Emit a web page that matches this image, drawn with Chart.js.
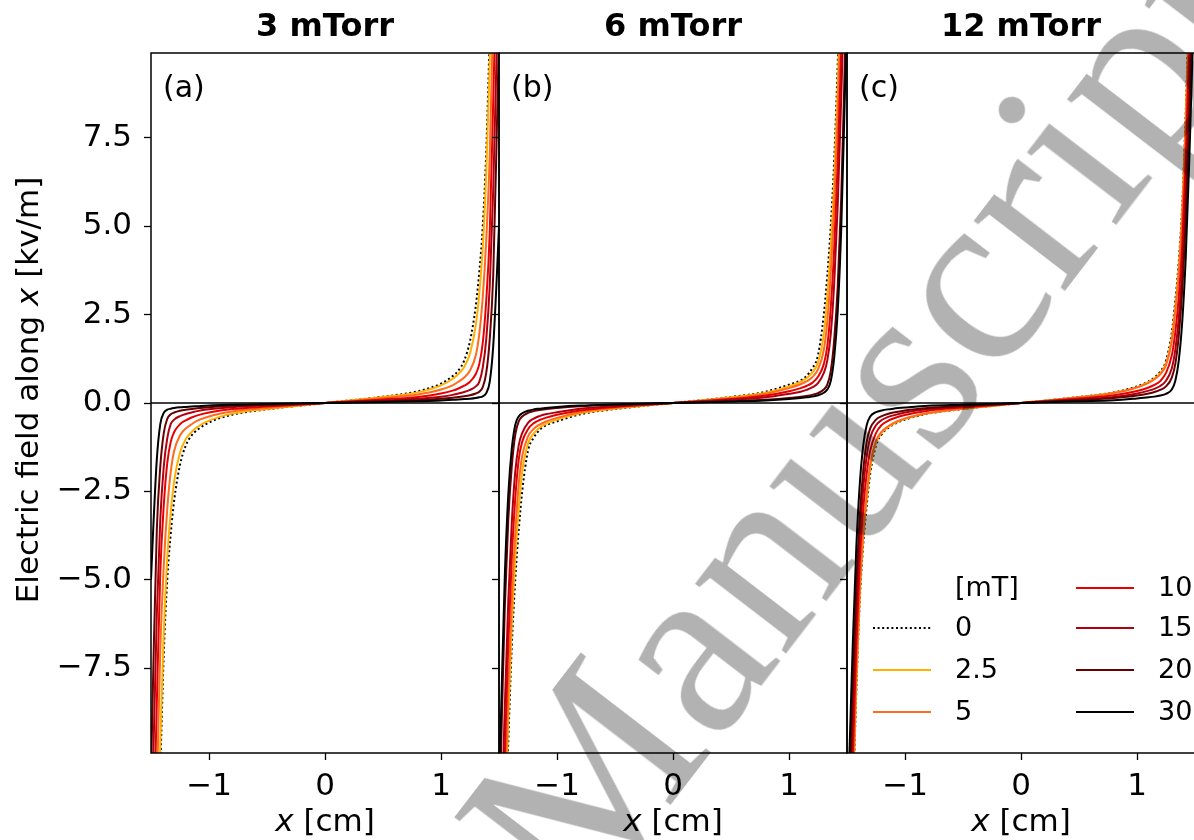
<!DOCTYPE html>
<html>
<head>
<meta charset="utf-8">
<script src="https://cdn.jsdelivr.net/npm/chart.js@4.4.1/dist/chart.umd.min.js"></script>
<style>
  html, body { margin: 0; padding: 0; background: #fff; overflow: hidden; }
  body { width: 1194px; height: 840px; position: relative; }
  canvas { position: absolute; top: 0; }
  #stamp {
    position: absolute;
    left: 860px;
    top: 420px;
    font: 250px "Liberation Serif", serif;
    line-height: 1;
    white-space: nowrap;
    color: rgba(0, 0, 0, 0.3);
    transform: translate(-50%, -50%) rotate(-52.5deg);
    pointer-events: none;
  }
</style>
</head>
<body>
<canvas id="panelA" width="520" height="840" style="left:0px"></canvas>
<canvas id="panelB" width="390" height="840" style="left:480px"></canvas>
<canvas id="panelC" width="400" height="840" style="left:828px"></canvas>
<div id="stamp">Manuscript</div>
<script>
// x positions (cm) of the x >= 0 half of each profile
const xHalf = [0, 0.5, 0.8, 1.0, 1.1, 1.15, 1.2, 1.25, 1.3, 1.33, 1.36, 1.39, 1.42, 1.45, 1.48, 1.5];

const fieldLabels = ["0", "2.5", "5", "10", "15", "20", "30"];
const pressures = ["3 mTorr", "6 mTorr", "12 mTorr"];
const panelTags = ["(a)", "(b)", "(c)"];
const xTicks = [-1, 0, 1];
const yTicks = [-7.5, -5, -2.5, 0, 2.5, 5, 7.5];

// electric field [kV/m], one row per magnetic field (0, 2.5, 5, 10, 15, 20, 30 mT)
const field3mTorr = [
  [0, 0.18, 0.33, 0.55, 0.76, 0.92, 1.2, 1.75, 2.75, 3.7, 5.0, 7.1, 10.4, 14, 18, 21],
  [0, 0.17, 0.30, 0.50, 0.68, 0.82, 1.02, 1.40, 2.2, 3.1, 4.4, 6.5, 9.6, 13.5, 17.5, 20],
  [0, 0.14, 0.24, 0.38, 0.50, 0.60, 0.72, 0.92, 1.35, 1.95, 3.0, 4.6, 7.0, 11, 14.5, 17],
  [0, 0.10, 0.17, 0.27, 0.35, 0.41, 0.49, 0.60, 0.82, 1.1, 1.7, 2.9, 4.8, 8.5, 12.5, 15],
  [0, 0.07, 0.12, 0.18, 0.23, 0.27, 0.31, 0.37, 0.47, 0.6, 1.0, 1.8, 3.3, 6.0, 10.0, 13],
  [0, 0.05, 0.08, 0.12, 0.15, 0.17, 0.19, 0.22, 0.27, 0.32, 0.45, 0.85, 1.8, 3.6, 7.5, 10.5],
  [0, 0.03, 0.05, 0.07, 0.09, 0.10, 0.11, 0.12, 0.14, 0.16, 0.19, 0.28, 0.6, 1.6, 3.5, 5.0],
];
const field6mTorr = [
  [0, 0.17, 0.32, 0.52, 0.64, 0.76, 0.98, 1.35, 2.5, 3.6, 5.0, 6.9, 9.6, 13, 17, 20],
  [0, 0.16, 0.29, 0.47, 0.60, 0.70, 0.86, 1.15, 1.95, 3.0, 4.4, 6.3, 8.9, 12.3, 16, 19],
  [0, 0.14, 0.26, 0.42, 0.53, 0.61, 0.73, 0.95, 1.5, 2.3, 3.7, 5.6, 8.2, 11.5, 15, 18],
  [0, 0.11, 0.21, 0.33, 0.42, 0.48, 0.57, 0.74, 1.1, 1.6, 2.7, 4.4, 6.8, 10, 13.5, 16],
  [0, 0.09, 0.16, 0.26, 0.32, 0.37, 0.44, 0.56, 0.85, 1.2, 1.95, 3.4, 5.6, 8.6, 12, 14.5],
  [0, 0.05, 0.09, 0.14, 0.18, 0.20, 0.23, 0.28, 0.38, 0.52, 0.9, 1.8, 3.3, 5.8, 9.5, 12],
  [0, 0.04, 0.07, 0.11, 0.14, 0.16, 0.18, 0.22, 0.29, 0.38, 0.62, 1.3, 2.6, 4.9, 8.5, 11],
];
const field12mTorr = [
  [0, 0.17, 0.30, 0.47, 0.61, 0.72, 0.88, 1.2, 2.0, 2.9, 4.0, 5.6, 8.2, 11.5, 15, 17.5],
  [0, 0.165, 0.29, 0.45, 0.59, 0.69, 0.84, 1.12, 1.85, 2.7, 3.8, 5.4, 8.0, 11.2, 14.7, 17.2],
  [0, 0.16, 0.285, 0.44, 0.57, 0.67, 0.81, 1.07, 1.75, 2.6, 3.7, 5.3, 7.8, 11, 14.5, 17],
  [0, 0.13, 0.22, 0.34, 0.44, 0.51, 0.62, 0.85, 1.35, 2.0, 3.0, 4.5, 6.9, 10, 13.5, 16],
  [0, 0.10, 0.17, 0.27, 0.35, 0.40, 0.48, 0.63, 0.98, 1.5, 2.4, 3.8, 6.0, 9.0, 12.5, 15],
  [0, 0.08, 0.14, 0.21, 0.27, 0.31, 0.37, 0.47, 0.72, 1.1, 1.9, 3.2, 5.2, 8.0, 11.5, 14],
  [0, 0.05, 0.08, 0.13, 0.16, 0.18, 0.21, 0.26, 0.38, 0.62, 1.2, 2.3, 4.1, 6.8, 10, 12.5],
];

const lineColors = ["#000000", "#ffb000", "#ff6a1c", "#e80000", "#b00010", "#680000", "#000000"];
const FONT = "DejaVu Sans";
const FS = 31;
const LEGEND_FS = 27;

// E(x) is odd in x: only the x >= 0 half is listed, the other half is its negative
function oddProfile(half) {
  const pts = [];
  for (let i = xHalf.length - 1; i > 0; i--) pts.push({ x: -xHalf[i], y: -half[i] });
  for (let i = 0; i < xHalf.length; i++) pts.push({ x: xHalf[i], y: half[i] });
  return pts;
}

function minusSign(s) {
  return s.replace("-", "\u2212");
}

// draws [text, italic] pieces centred on (cx, cy)
function drawMixed(ctx, parts, cx, cy) {
  const widths = parts.map(([t, it]) => {
    ctx.font = `${it ? "italic " : ""}${FS}px "${FONT}"`;
    return ctx.measureText(t).width;
  });
  let x = cx - widths.reduce((a, b) => a + b, 0) / 2;
  ctx.textAlign = "left";
  ctx.textBaseline = "middle";
  parts.forEach(([t, it], i) => {
    ctx.font = `${it ? "italic " : ""}${FS}px "${FONT}"`;
    ctx.fillText(t, x, cy);
    x += widths[i];
  });
}

function panelDecor(idx) {
  return {
    id: "panelDecor",
    afterDatasetsDraw(chart) {
      const ctx = chart.ctx;
      const { left, right, top, bottom } = chart.chartArea;
      const y0 = chart.scales.y.getPixelForValue(0);
      ctx.save();
      ctx.strokeStyle = "black";
      ctx.lineWidth = 1.5;
      ctx.beginPath();
      ctx.moveTo(left, y0);
      ctx.lineTo(right, y0);
      ctx.stroke();
      ctx.strokeRect(left, top, right - left, bottom - top);
      ctx.restore();
    },
    afterDraw(chart) {
      const ctx = chart.ctx;
      const { left, right, top, bottom } = chart.chartArea;
      const mid = (left + right) / 2;
      ctx.save();
      ctx.fillStyle = "#000";

      ctx.font = `bold 32px "${FONT}"`;
      ctx.textAlign = "center";
      ctx.textBaseline = "middle";
      ctx.fillText(pressures[idx], mid, top - 25);

      ctx.font = `30px "${FONT}"`;
      ctx.textAlign = "left";
      ctx.fillText(panelTags[idx], left + 12, top + 36);

      drawMixed(ctx, [["x", true], [" [cm]", false]], mid, bottom + 70);

      if (idx === 0) {
        ctx.save();
        ctx.translate(30, 390);
        ctx.rotate(-Math.PI / 2);
        drawMixed(ctx, [["Electric field along ", false], ["x", true], [" [kv/m]", false]], 0, 0);
        ctx.restore();
      }

      if (idx === 2) {
        // two-column legend, header first, filled column by column
        const rows = [-165, -125, -83, -41];
        const cols = [26, 229];
        const items = [{ text: "[mT]" }].concat(
          chart.data.datasets.map((ds) => ({ text: ds.label, color: ds.borderColor, dash: ds.borderDash }))
        );
        ctx.font = `${LEGEND_FS}px "${FONT}"`;
        ctx.textAlign = "left";
        ctx.textBaseline = "middle";
        items.forEach((it, k) => {
          const lx = left + cols[Math.floor(k / 4)];
          const ly = bottom + rows[k % 4];
          if (it.color) {
            ctx.save();
            ctx.strokeStyle = it.color;
            ctx.lineWidth = 2;
            ctx.setLineDash(it.dash || []);
            ctx.beginPath();
            ctx.moveTo(lx, ly);
            ctx.lineTo(lx + 58, ly);
            ctx.stroke();
            ctx.restore();
          }
          ctx.fillText(it.text, lx + 82, ly + 1);
        });
      }
      ctx.restore();
    },
  };
}

function makePanel(id, fields, idx, yWidth, rightPad) {
  const first = idx === 0;
  return new Chart(document.getElementById(id), {
    type: "line",
    data: {
      datasets: fields.map((half, i) => ({
        label: fieldLabels[i],
        data: oddProfile(half),
        borderColor: lineColors[i],
        borderWidth: 2,
        borderDash: i === 0 ? [2, 2.6] : [],
        pointRadius: 0,
        cubicInterpolationMode: "monotone",
        clip: 0,
        order: -i,
      })),
    },
    options: {
      responsive: false,
      animation: false,
      events: [],
      layout: { padding: { top: 53, right: rightPad, left: 0, bottom: 0 } },
      plugins: {
        legend: { display: false },
        tooltip: { enabled: false },
      },
      scales: {
        x: {
          type: "linear",
          min: -1.5,
          max: 1.5,
          afterBuildTicks: (s) => { s.ticks = xTicks.map((v) => ({ value: v })); },
          afterFit: (s) => { s.height = 87; },
          border: { display: false },
          grid: { drawOnChartArea: false, tickLength: 7, tickColor: "#000", tickWidth: 1.3 },
          ticks: {
            autoSkip: false,
            maxRotation: 0,
            padding: 8,
            color: "#000",
            font: { family: FONT, size: FS },
            callback: (v) => minusSign(String(v)),
          },
        },
        y: {
          type: "linear",
          min: -9.9,
          max: 9.9,
          afterBuildTicks: (s) => { s.ticks = yTicks.map((v) => ({ value: v })); },
          afterFit: (s) => { s.width = yWidth; },
          border: { display: false },
          grid: { drawOnChartArea: false, tickLength: 7, tickColor: "#000", tickWidth: 1.3 },
          ticks: {
            display: first,
            autoSkip: false,
            padding: 12,
            color: "#000",
            font: { family: FONT, size: FS },
            callback: (v) => minusSign(v.toFixed(1)),
          },
        },
      },
    },
    plugins: [panelDecor(idx)],
  });
}

makePanel("panelA", field3mTorr, 0, 151, 21);
makePanel("panelB", field6mTorr, 1, 19, 23);
makePanel("panelC", field12mTorr, 2, 19, 33);
</script>
</body>
</html>
